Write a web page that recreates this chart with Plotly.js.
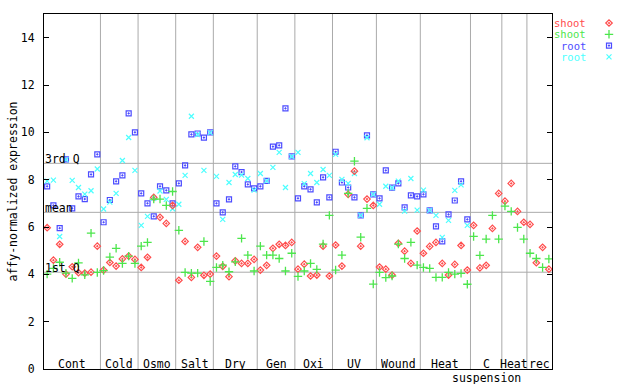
<!DOCTYPE html>
<html><head><meta charset="utf-8">
<script src="https://cdn.plot.ly/plotly-3.0.1.min.js"></script>
<style>html,body{margin:0;padding:0;background:#fff}#chart{width:640px;height:384px}</style>
</head><body><div id="chart"></div>
<script>
// ---- data ----
const groupNames = ['Cont','Cold','Osmo','Salt','Dry','Gen','Oxi','UV','Wound','Heat','C<br>suspension','Heat','rec'];
const groupSizes = [9,6,6,6,7,6,6,7,7,8,5,4,4];

const shootRed = [
  5.97,4.60,5.27,4.01,4.32,4.07,4.05,4.09,5.19,
  4.18,4.50,4.35,4.65,4.77,4.63,
  4.29,4.72,7.25,6.41,6.15,6.91,
  3.75,5.39,3.87,5.14,3.96,4.01,
  4.77,4.34,3.90,4.57,4.46,4.46,4.63,
  4.18,4.38,5.10,5.27,5.22,5.35,
  4.22,4.43,3.93,3.97,5.19,3.93,
  5.24,4.35,7.38,8.36,5.19,7.18,6.91,
  4.31,4.22,3.97,5.31,4.98,4.46,5.83,
  4.89,5.18,5.35,4.46,3.97,4.42,5.22,4.18,
  6.07,4.27,4.38,5.94,7.42,
  7.09,7.84,6.66,6.20,
  6.11,4.49,5.14,4.22
];
const shootGreen = [
  4.01,4.25,4.51,4.05,3.83,4.48,3.98,5.74,4.08,
  4.16,4.73,5.10,4.46,4.77,4.46,
  5.19,5.35,7.18,7.18,6.91,7.50,
  5.86,4.08,4.05,4.05,5.39,3.70,
  4.29,4.39,4.11,4.53,5.52,4.81,4.14,
  5.19,4.81,4.81,4.67,4.14,4.89,
  3.91,4.14,4.46,4.21,5.28,6.49,
  4.18,4.81,7.42,8.78,5.57,6.79,3.59,
  4.08,3.86,3.93,5.28,4.67,5.35,4.39,
  4.29,4.25,3.87,3.87,4.08,4.01,4.04,3.58,
  5.60,4.80,5.49,6.49,5.49,
  6.88,6.66,5.98,5.49,
  4.89,4.67,4.29,4.65
];
const rootBlue = [
  7.72,6.91,5.95,8.86,6.79,7.29,7.18,8.22,9.07,
  6.20,7.14,7.93,8.18,10.80,10.00,
  7.42,7.00,6.45,7.72,7.55,7.00,
  7.84,8.60,9.91,9.95,9.78,10.00,
  7.00,6.62,7.17,8.56,8.32,7.80,7.63,
  7.72,7.95,9.40,9.45,11.01,8.98,
  7.21,7.72,7.59,7.04,8.10,7.25,
  9.18,7.88,7.67,7.25,6.49,9.87,7.38,
  7.21,8.39,7.66,7.84,6.83,7.34,7.29,
  7.38,6.70,6.03,5.39,6.53,7.12,7.93,6.32,
  null,null,null,null,null,
  null,null,null,null,
  null,null,null,null
];
const rootCyan = [
  7.94,7.98,5.60,8.85,7.97,7.67,7.39,7.53,8.45,
  6.76,7.05,7.42,8.81,9.78,8.39,
  6.07,6.45,7.21,7.52,7.17,6.77,
  6.96,8.18,10.68,9.91,8.39,9.99,
  8.14,6.32,7.88,8.22,8.19,8.05,7.56,
  8.26,7.95,8.52,9.15,7.67,8.98,
  9.15,7.83,8.26,7.88,8.43,8.18,
  9.07,8.01,7.84,8.26,6.49,9.77,7.38,
  6.96,7.72,7.66,7.94,6.67,8.05,6.71,
  7.56,6.70,6.49,5.56,6.28,7.55,7.78,6.07,
  null,null,null,null,null,
  null,null,null,null,
  null,null,null,null
];
const statLabels = ['3rd Q','mean','1st Q'];
const statValues = [8.69, 6.62, 4.09];
const yTicks = [0,2,4,6,8,10,12,14];
const legendNames = ['shoot','shoot','root','root'];

// ---- styling ----
const FONT = 'DejaVu Sans Mono';
const FS = 11.5;
const W = 640, H = 384, PL = 44, PR = 552, PT = 14, PB = 369;
const N = groupSizes.reduce((a,b)=>a+b,0);
const xs = Array.from({length:N}, (_, i) => i);
const mainFrac = (PR - PL) / (W - PL);

const seriesDefs = [
  {y: rootBlue,   color:'#4c4cff', symbol:'square-open-dot', size:5, lw:1.2},
  {y: rootCyan,   color:'#4cffff', symbol:'x-thin-open',     size:5, lw:1.2},
  {y: shootRed,   color:'#ff4c4c', symbol:'diamond-open-dot',size:5, lw:1.2},
  {y: shootGreen, color:'#4ce64c', symbol:'cross-thin-open', size:6, lw:1.3}
];
const legendDefs = [seriesDefs[2], seriesDefs[3], seriesDefs[0], seriesDefs[1]];

const traces = seriesDefs.map(s => ({
  type:'scatter', mode:'markers', x: xs, y: s.y, xaxis:'x', yaxis:'y',
  marker:{symbol:s.symbol, size:s.size, color:s.color, line:{color:s.color, width:s.lw}},
  hoverinfo:'skip', showlegend:false, cliponaxis:false
}));

// legend rows (pixel positions relative to the plot top)
const legendRowY = legendNames.map((_, k) => 9 + 11.3*k);
legendDefs.forEach((s, k) => {
  traces.push({
    type:'scatter', mode:'markers', x:[609 - PL], y:[legendRowY[k]], xaxis:'x2', yaxis:'y2',
    marker:{symbol:s.symbol, size:s.size, color:s.color, line:{color:s.color, width:s.lw}},
    hoverinfo:'skip', showlegend:false, cliponaxis:false
  });
});

const shapes = [];
const annotations = [];
let cum = 0;
groupSizes.forEach((n, g) => {
  const start = cum; cum += n;
  if (g < groupSizes.length - 1) {
    shapes.push({type:'line', xref:'x', yref:'paper', x0:cum-0.5, x1:cum-0.5, y0:0, y1:1,
      line:{color:'#aaaaaa', width:1}, layer:'below'});
  }
  const lines = groupNames[g].split('<br>');
  lines.forEach((ln, li) => {
    annotations.push({xref:'x', yref:'paper', x:(start + cum - 1)/2, y:0, yanchor:'middle', xanchor:'center',
      yshift: 5 - 14*li, height:12, borderpad:0, text:ln, showarrow:false,
      font:{family:FONT, size:FS, color:'#000'}});
  });
});
statValues.forEach((v, k) => {
  shapes.push({type:'line', xref:'x domain', yref:'y', x0:0, x1:1, y0:v, y1:v,
    line:{color:'#aaaaaa', width:1}, layer:'below'});
  annotations.push({xref:'x domain', yref:'y', x:0, y:v, xanchor:'left', yanchor:'middle',
    xshift:0, yshift:4, height:12, borderpad:0, text:statLabels[k], showarrow:false,
    font:{family:FONT, size:FS, color:'#000'}});
});
legendNames.forEach((name, k) => {
  annotations.push({xref:'x2', yref:'y2', x:587 - PL, y:legendRowY[k], xanchor:'right', yanchor:'middle',
    height:10, borderpad:0, text:name, showarrow:false, font:{family:FONT, size:10.5, color:legendDefs[k].color}});
});
annotations.push({xref:'paper', yref:'paper', x:(12 - PL)/(W - PL), y:0.5, xanchor:'center', yanchor:'middle',
  textangle:-90, text:'affy-normalized expression', showarrow:false, font:{family:FONT, size:FS, color:'#000'}});

const layout = {
  width:W, height:H,
  margin:{l:PL, r:0, t:PT, b:H-PB, pad:0},
  paper_bgcolor:'#fff', plot_bgcolor:'rgba(0,0,0,0)',
  showlegend:false,
  font:{family:FONT, size:FS, color:'#000'},
  xaxis:{domain:[0, mainFrac], range:[-0.5, N-0.5], showgrid:false, zeroline:false,
    showticklabels:false, ticks:'', showline:true, linecolor:'#000', linewidth:1, mirror:true, fixedrange:true},
  yaxis:{domain:[0,1], range:[0,15], tickvals:yTicks, ticktext:yTicks.map(String), ticks:'inside', ticklen:5,
    tickcolor:'#000', tickwidth:1, showline:true, linecolor:'#000', linewidth:1, mirror:'ticks',
    showgrid:false, zeroline:false, ticklabelstandoff:6, tickfont:{family:FONT, size:FS, color:'#000'}, fixedrange:true},
  xaxis2:{domain:[0,1], range:[0, W-PL], visible:false, anchor:'y2', fixedrange:true},
  yaxis2:{domain:[0,1], range:[PB-PT, 0], visible:false, anchor:'x2', fixedrange:true},
  shapes:shapes, annotations:annotations
};

Plotly.newPlot('chart', traces, layout, {staticPlot:true, displayModeBar:false});
</script>
</body></html>
